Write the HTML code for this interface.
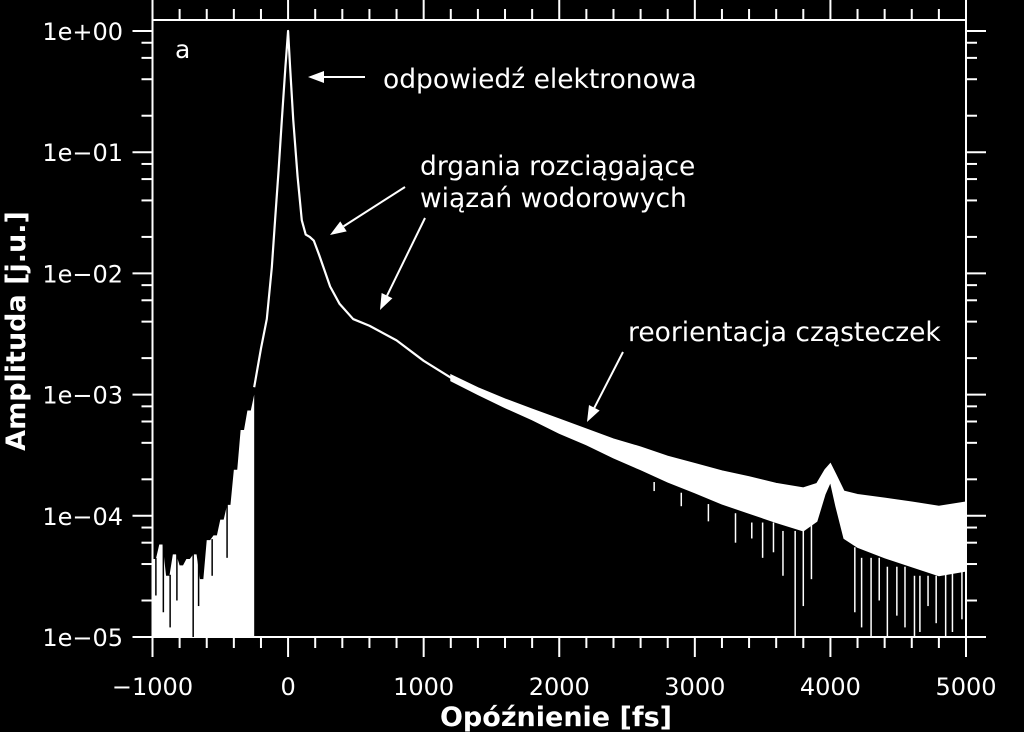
<!DOCTYPE html>
<html><head><meta charset="utf-8"><style>
html,body{margin:0;padding:0;background:#000;}
svg{display:block;}
text{font-family:"DejaVu Sans","Liberation Sans",sans-serif;fill:#fff;}
</style></head><body>
<svg id="chart" width="1024" height="732" viewBox="0 0 1024 732" xmlns="http://www.w3.org/2000/svg">
<rect width="1024" height="732" fill="#000"/>
<g id="axes"></g>
<g id="marks"></g>
<text x="175" y="58" font-size="25">a</text>
<text x="383" y="88" font-size="26.5">odpowiedź elektronowa</text>
<text x="420" y="175" font-size="26.5">drgania rozciągające</text>
<text x="420" y="207" font-size="26.5">wiązań wodorowych</text>
<text x="628" y="341" font-size="26.5">reorientacja cząsteczek</text>
<g id="arrows"></g>
<text x="556" y="726" font-size="27" font-weight="bold" text-anchor="middle">Opóźnienie [fs]</text>
<text x="0" y="0" font-size="27" font-weight="bold" text-anchor="middle" transform="translate(25,331) rotate(-90)">Amplituda [j.u.]</text>
</svg>
<script>
// ---- data ----
const xTicks = [-1000, 0, 1000, 2000, 3000, 4000, 5000];
const xTickLabels = ["\u22121000", "0", "1000", "2000", "3000", "4000", "5000"];
const yTicks = [1, 1e-1, 1e-2, 1e-3, 1e-4, 1e-5];
const yTickLabels = ["1e+00", "1e\u221201", "1e\u221202", "1e\u221203", "1e\u221204", "1e\u221205"];
// negative-delay region (filled to bottom)
const negTimes = [-1000,-950,-900,-850,-800,-750,-700,-650,-600,-550,-500,-450,-400,-350,-300,-250];
const negTops = [4.4e-5,5.8e-5,3.2e-5,4.8e-5,3.9e-5,4.4e-5,4.8e-5,3.0e-5,6.3e-5,6.9e-5,9.3e-5,1.23e-4,2.4e-4,5.1e-4,7.4e-4,1.0e-3];
// black gaps inside the negative-delay fill
const negGapTimes = [-975,-920,-870,-820,-700,-660,-560,-450];
const negGapTops = [2.2e-5,1.6e-5,1.2e-5,2.0e-5,1.0e-5,1.8e-5,3.2e-5,4.5e-5];
// main smooth trace
const mainTimes = [-250,-200,-157,-120,-96,-70,-46,-20,0,15,38,70,101,130,160,190,230,270,310,380,480,600,800,1000,1200];
const mainValues = [1.15e-3,2.4e-3,4.2e-3,1.12e-2,2.75e-2,7.1e-2,0.185,0.5,1.0,0.5,0.185,0.063,0.0275,0.0209,0.0200,0.0186,0.0141,0.0105,0.0078,0.0056,0.0042,0.0037,0.0028,0.0019,0.00138];
// noisy tail: centre and envelope
const tailTimes = [1200,1400,1600,1800,2000,2200,2400,2600,2800,3000,3200,3400,3600,3800,3900,3960,4000,4040,4100,4200,4400,4600,4800,5000];
const tailCenter = [1.38e-3,1.07e-3,8.5e-4,6.9e-4,5.5e-4,4.5e-4,3.6e-4,3.0e-4,2.45e-4,2.05e-4,1.75e-4,1.5e-4,1.32e-4,1.18e-4,1.35e-4,1.9e-4,2.3e-4,1.6e-4,1.05e-4,9.5e-5,8.5e-5,7.5e-5,6.8e-5,7.2e-5];
const tailLow = [1.3e-3,1.0e-3,7.8e-4,6.2e-4,4.8e-4,3.85e-4,3.0e-4,2.4e-4,1.9e-4,1.55e-4,1.25e-4,1.05e-4,8.8e-5,7.5e-5,9.0e-5,1.5e-4,1.9e-4,1.2e-4,6.5e-5,5.5e-5,4.5e-5,3.8e-5,3.2e-5,3.5e-5];
const tailHigh = [1.46e-3,1.14e-3,9.2e-4,7.6e-4,6.3e-4,5.2e-4,4.3e-4,3.7e-4,3.1e-4,2.7e-4,2.35e-4,2.1e-4,1.85e-4,1.7e-4,1.85e-4,2.4e-4,2.7e-4,2.2e-4,1.6e-4,1.5e-4,1.4e-4,1.3e-4,1.2e-4,1.3e-4];
// deep dips in the noisy tail
const dipTimes = [2700,2900,3100,3300,3420,3500,3580,3650,3740,3800,3860,4180,4230,4300,4360,4420,4490,4550,4620,4660,4720,4780,4850,4900,4970];
const dipValues = [1.6e-4,1.2e-4,9e-5,6e-5,6.5e-5,4.5e-5,5e-5,3.2e-5,1e-5,1.8e-5,3e-5,1.6e-5,1.2e-5,1e-5,2e-5,1e-5,1.5e-5,1.2e-5,1e-5,1.1e-5,1.8e-5,1.3e-5,1e-5,1.1e-5,1.4e-5];

// ---- scales ----
const X0 = 152.5, X1 = 966, Y0 = 31, DEC = 121.2, YB = 637, YT = 20;
const xs = t => X0 + (t + 1000) / 6000 * (X1 - X0);
const ys = v => Y0 - DEC * Math.log10(v);
const NS = "http://www.w3.org/2000/svg";
function mk(tag, attrs, parent) {
  const el = document.createElementNS(NS, tag);
  for (const k in attrs) el.setAttribute(k, attrs[k]);
  parent.appendChild(el);
  return el;
}
const axes = document.getElementById('axes');
const marks = document.getElementById('marks');
const arrows = document.getElementById('arrows');
const W = {stroke: '#fff', 'stroke-width': 2};

// frame
let fr = mk('rect', {x: X0, y: YT, width: X1 - X0, height: YB - YT, fill: 'none', stroke: '#fff', 'stroke-width': 2}, axes);



// x ticks
for (let t = -1000; t <= 5000; t += 200) {
  const major = t % 1000 === 0;
  const x = xs(t);
  let b = mk('line', Object.assign({x1: x, x2: x, y1: YB, y2: YB + (major ? 20 : 11)}, W), axes);
  
  
  let tp = mk('line', Object.assign({x1: x, x2: x, y1: YT, y2: YT - (major ? 20 : 11)}, W), axes);
  
  
}
xTicks.forEach((t, i) => {
  let lb = mk('text', {x: xs(t), y: 695, 'font-size': 24, 'text-anchor': 'middle'}, axes);
  lb.textContent = xTickLabels[i];
  
  
});
// y ticks
yTicks.forEach((v, i) => {
  const y = ys(v);
  let l = mk('line', Object.assign({x1: X0, x2: X0 - 20, y1: y, y2: y}, W), axes);
  
  
  let r = mk('line', Object.assign({x1: X1, x2: X1 + 20, y1: y, y2: y}, W), axes);
  
  
  let lb = mk('text', {x: 123, y: y + 9, 'font-size': 24, 'text-anchor': 'end'}, axes);
  lb.textContent = yTickLabels[i];
  
  
  if (i < yTicks.length - 1) {
    [0.8, 0.6, 0.4, 0.2].forEach(m => {
      const ym = ys(v * m);
      let ml = mk('line', Object.assign({x1: X0, x2: X0 - 11, y1: ym, y2: ym}, W), axes);
      
      
      let mr = mk('line', Object.assign({x1: X1, x2: X1 + 11, y1: ym, y2: ym}, W), axes);
      
      
    });
  }
});

// negative region fill
let dNeg = 'M' + xs(negTimes[0]) + ',' + YB;
negTimes.forEach((t, i) => {
  const x0 = xs(t), x1 = xs(i < negTimes.length - 1 ? negTimes[i + 1] : t);
  dNeg += ' L' + x0 + ',' + ys(negTops[i]) + ' L' + ((x0 + x1) / 2) + ',' + ys(negTops[i]);
});
dNeg += ' L' + xs(negTimes[negTimes.length - 1]) + ',' + YB + ' Z';
let neg = mk('path', {d: dNeg, fill: '#fff'}, marks);


negGapTimes.forEach((t, i) => {
  const ci = Math.max(0, negTimes.findIndex(tt => tt > t) - 1);
  let g = mk('line', {x1: xs(t), x2: xs(t), y1: ys(negTops[ci]) - 1, y2: ys(negGapTops[i]), stroke: '#000', 'stroke-width': 1.5}, marks);
  
  
});

// band
let dB = '';
tailTimes.forEach((t, i) => { dB += (i ? ' L' : 'M') + xs(t) + ',' + ys(tailHigh[i]); });
for (let i = tailTimes.length - 1; i >= 0; i--) dB += ' L' + xs(tailTimes[i]) + ',' + ys(tailLow[i]);
dB += ' Z';
let band = mk('path', {d: dB, fill: '#fff', stroke: '#fff', 'stroke-width': 1}, marks);



// main line
let pts = mainTimes.map((t, i) => xs(t) + ',' + ys(mainValues[i]));
pts = pts.concat(tailTimes.map((t, i) => xs(t) + ',' + ys(tailCenter[i])));
let ln = mk('polyline', {points: pts.join(' '), fill: 'none', stroke: '#fff', 'stroke-width': 2.2, 'stroke-linejoin': 'round'}, marks);



// dips
dipTimes.forEach((t, i) => {
  const ci = tailTimes.findIndex(tt => tt >= t);
  let dp = mk('line', {x1: xs(t), x2: xs(t), y1: ys(tailLow[ci]), y2: Math.min(YB, ys(dipValues[i])), stroke: '#fff', 'stroke-width': 1.5}, marks);
  
  
});

// arrows
const arrowDefs = [[365,77,308,77],[405,187,330,235],[425,218,380,310],[623,352,587,422]];
arrowDefs.forEach(a => {
  const [x1, y1, x2, y2] = a;
  const ang = Math.atan2(y2 - y1, x2 - x1), L = 16, w = 6;
  const bx = x2 - L * Math.cos(ang), by = y2 - L * Math.sin(ang);
  let s = mk('line', Object.assign({x1: x1, y1: y1, x2: bx, y2: by}, W), arrows);
  
  
  const px = -Math.sin(ang) * w, py = Math.cos(ang) * w;
  let h = mk('polygon', {points: `${x2},${y2} ${bx + px},${by + py} ${bx - px},${by - py}`, fill: '#fff'}, arrows);
  
  
});
</script>
</body></html>
